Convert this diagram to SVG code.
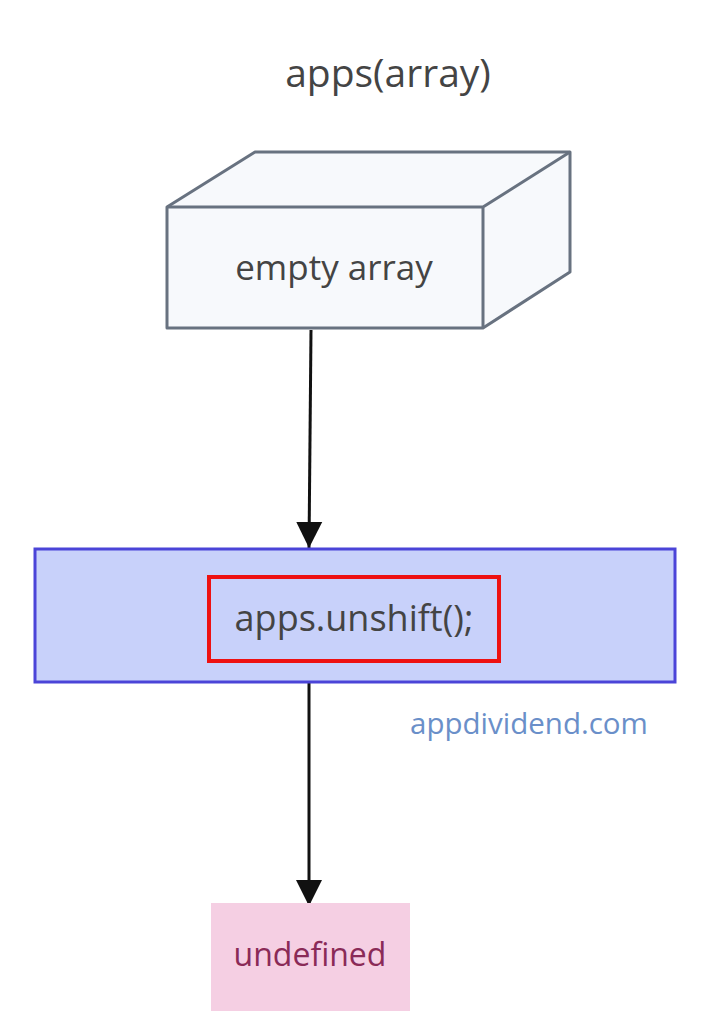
<svg xmlns="http://www.w3.org/2000/svg" width="720" height="1024" viewBox="0 0 720 1024">
<style>
text{font-family:"Open Sans","Noto Sans",sans-serif;text-anchor:middle}
.c{stroke:#111;stroke-width:3;fill:none}
</style>
<defs><marker id="ah" markerWidth="26" markerHeight="28" refX="26" refY="13" orient="auto" markerUnits="userSpaceOnUse" viewBox="0 0 26 26"><path d="M0,0L26,13L0,26z" fill="#111"/></marker></defs>
<rect width="720" height="1024" fill="#fff"/>
<text x="388" y="87" font-size="39" fill="#444">apps(array)</text>
<g id="empty">
<path d="M167,207L255,152L570,152L570,272L483,328L167,328Z" fill="#f7f9fc" stroke="#687280" stroke-width="3" stroke-linejoin="round"/>
<path d="M167,207L483,207L570,152M483,207L483,328" fill="none" stroke="#687280" stroke-width="3"/>
<text x="334" y="280" font-size="35" fill="#444">empty array</text>
</g>
<g id="connectors">
<line class="c" x1="311" y1="330" x2="309" y2="548" marker-end="url(#ah)"/>
<line class="c" x1="309" y1="682" x2="309" y2="906" marker-end="url(#ah)"/>
</g>
<g id="unshift">
<rect x="35" y="549" width="640" height="133" fill="#c8d1fa" stroke="#4b44d8" stroke-width="3"/>
<rect x="209" y="577" width="290" height="84" fill="none" stroke="#ee1111" stroke-width="4"/>
<text x="354" y="631" font-size="36" fill="#444">apps.unshift();</text>
</g>
<text x="529" y="734" font-size="29.5" fill="#6a8fc9">appdividend.com</text>
<g id="undef">
<rect x="211" y="903" width="199" height="108" fill="#f5cfe3"/>
<text x="310" y="957" font-size="32" fill="#8a2a57" dominant-baseline="middle">undefined</text>
</g>
</svg>
